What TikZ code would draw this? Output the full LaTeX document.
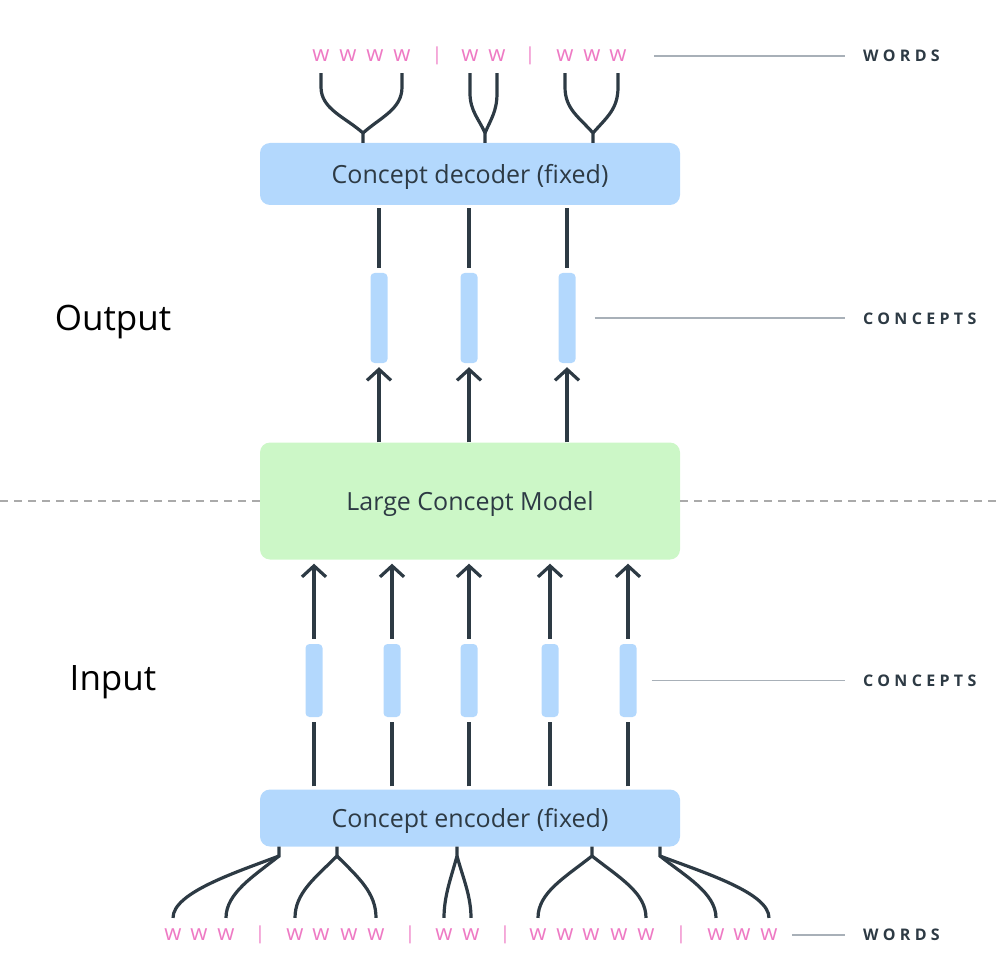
\documentclass[tikz,border=0pt]{standalone}
\usepackage{fontspec}
\setmainfont{Open Sans}
\newfontfamily\tagfont[LetterSpace=27]{Open Sans}
\usetikzlibrary{arrows.meta}

\definecolor{boxblue}{RGB}{179,216,253}
\definecolor{boxgreen}{RGB}{204,247,199}
\definecolor{ink}{RGB}{45,58,68}
\definecolor{wpink}{RGB}{238,122,196}
\definecolor{rulegray}{RGB}{168,176,184}
\definecolor{dashgray}{RGB}{170,170,170}

\tikzset{
  block/.style={rounded corners=10pt, minimum width=420pt, inner sep=0pt, text depth=0pt, text=ink, font=\fontsize{25}{29}\selectfont},
  vec/.style={fill=boxblue, rounded corners=4pt, minimum width=17pt, inner sep=0pt},
  wd/.style={text=wpink, inner sep=0pt, font=\fontsize{22}{24}\selectfont},
  bar/.style={text=wpink, inner sep=0pt, font=\fontsize{18}{20}\selectfont},
  link/.style={ink, line width=3.2pt},
  arr/.style={link, -{Straight Barb[length=11pt, width=24pt]}},
  tag/.style={anchor=west, inner sep=0pt, text=ink, font=\tagfont\bfseries\fontsize{16}{18}\selectfont},
  guide/.style={rulegray, line width=1.3pt},
  divider/.style={dashgray, line width=1.3pt, dash pattern=on 8pt off 6pt},
  side/.style={inner sep=0pt, text depth=0pt, font=\fontsize{35}{40}\selectfont}
}

\begin{document}
\begin{tikzpicture}[x=1pt, y=-1pt]
\useasboundingbox (0,0) rectangle (1000,965);

% boxes
\node[block, fill=boxblue, minimum height=62pt] (dec) at (470,174) {Concept decoder (fixed)};
\node[block, fill=boxgreen, minimum height=117pt] (lcm) at (470,501) {Large Concept Model};
\node[block, fill=boxblue, minimum height=57pt] (enc) at (470,818) {Concept encoder (fixed)};

% side titles
\node[side] (out) at (113,318) {Output};
\node[side] (in) at (113,678) {Input};

% concept vectors
\foreach \x [count=\i] in {379,469,567}
  \node[vec, minimum height=90pt] (ct\i) at (\x,318) {};
\foreach \x [count=\i] in {314,392,469,550,628}
  \node[vec, minimum height=73pt] (cb\i) at (\x,680.5) {};

% words
\foreach \x [count=\i] in {321,348,375,402,470,497,565,592,618}
  \node[wd] (tw\i) at (\x,56) {w};
\foreach \x [count=\i] in {437,530}
  \node[bar] (ts\i) at (\x,56) {|};
\foreach \x [count=\i] in {173,199,226,295,321,349,376,444,471,538,565,591,619,646,716,742,769}
  \node[wd] (bw\i) at (\x,935) {w};
\foreach \x [count=\i] in {260,410,505,681}
  \node[bar] (bs\i) at (\x,935) {|};

% labels on the right
\node[tag] (wtop) at (863,56) {WORDS};
\node[tag] (ctop) at (863,319) {CONCEPTS};
\node[tag] (cbot) at (863,681) {CONCEPTS};
\node[tag] (wbot) at (863,935) {WORDS};

\draw[guide, shorten <=27pt, shorten >=18pt] (tw9.east) -- (tw9.east -| wtop.west);
\draw[guide, shorten <=19pt, shorten >=18pt] (ct3.east) -- (ct3.east -| ctop.west);
\draw[guide, shorten <=15pt, shorten >=18pt] (cb5.east) -- (cb5.east -| cbot.west);
\draw[guide, shorten <=14pt, shorten >=18pt] (bw17.east) -- (bw17.east -| wbot.west);

% input / output divide
\coordinate (dl) at (0,501);
\coordinate (dr) at (1000,501);
\draw[divider] (dl) -- (lcm.west);
\draw[divider] (lcm.east) -- (dr);

% decoder side
\foreach \i in {1,2,3} {
  \draw[link, shorten <=3pt, shorten >=5pt] (dec.south -| ct\i) -- (ct\i.north);
  \draw[arr, shorten >=4pt] (lcm.north -| ct\i) -- (ct\i.south);
}

% encoder side
\foreach \i in {1,...,5} {
  \draw[link, shorten <=3pt, shorten >=5pt] (enc.north -| cb\i) -- (cb\i.south);
  \draw[arr, shorten <=5pt, shorten >=4pt] (cb\i.north) -- (lcm.south -| cb\i);
}

% words into the decoder
\coordinate (dj1) at (363,133);
\coordinate (dj2) at (485,133);
\coordinate (dj3) at (593,133);
\draw[link] ([yshift=-11pt]tw1.south) -- ++(0,14) .. controls +(0,22) and +(-18,-16) .. (dj1) -- (dj1 |- dec.north);
\draw[link] ([yshift=-11pt]tw4.south) -- ++(0,14) .. controls +(0,22) and +(18,-16) .. (dj1);
\draw[link] ([yshift=-11pt]tw5.south) -- ++(0,20) .. controls +(0,18) and +(-6,-14) .. (dj2) -- (dj2 |- dec.north);
\draw[link] ([yshift=-11pt]tw6.south) -- ++(0,20) .. controls +(0,18) and +(6,-14) .. (dj2);
\draw[link] ([yshift=-11pt]tw7.south) -- ++(0,14) .. controls +(0,22) and +(-14,-16) .. (dj3) -- (dj3 |- dec.north);
\draw[link] ([yshift=-11pt]tw9.south) -- ++(0,14) .. controls +(0,22) and +(14,-16) .. (dj3);

% words out of the encoder
\coordinate (ej1) at (279,856);
\coordinate (ej2) at (337,856);
\coordinate (ej3) at (457,856);
\coordinate (ej4) at (592,856);
\coordinate (ej5) at (660,856);
\draw[link] (ej1 |- enc.south) -- (ej1) .. controls +(-45,17) and +(0,-25) .. ([yshift=11pt]bw1.north);
\draw[link] (ej1) .. controls +(-25,20) and +(0,-25) .. ([yshift=11pt]bw3.north);
\draw[link] (ej2 |- enc.south) -- (ej2) .. controls +(-22,22) and +(0,-25) .. ([yshift=11pt]bw4.north);
\draw[link] (ej2) .. controls +(22,22) and +(0,-25) .. ([yshift=11pt]bw7.north);
\draw[link] (ej3 |- enc.south) -- (ej3) .. controls +(-6,22) and +(0,-22) .. ([yshift=11pt]bw8.north);
\draw[link] (ej3) .. controls +(6,22) and +(0,-22) .. ([yshift=11pt]bw9.north);
\draw[link] (ej4 |- enc.south) -- (ej4) .. controls +(-28,22) and +(0,-25) .. ([yshift=11pt]bw10.north);
\draw[link] (ej4) .. controls +(28,22) and +(0,-25) .. ([yshift=11pt]bw14.north);
\draw[link] (ej5 |- enc.south) -- (ej5) .. controls +(25,20) and +(0,-25) .. ([yshift=11pt]bw15.north);
\draw[link] (ej5) .. controls +(45,17) and +(0,-25) .. ([yshift=11pt]bw17.north);
\end{tikzpicture}
\end{document}
